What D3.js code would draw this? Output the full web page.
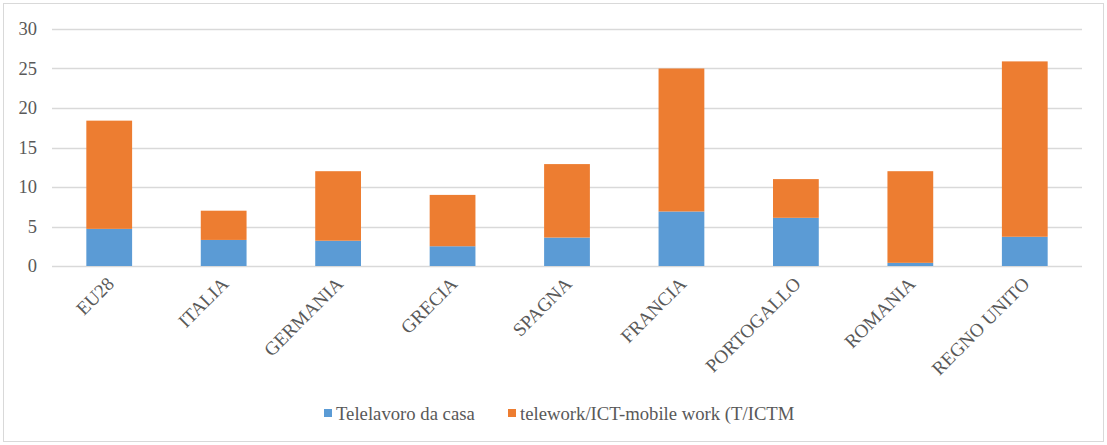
<!DOCTYPE html>
<html>
<head>
<meta charset="utf-8">
<script src="https://cdn.jsdelivr.net/npm/d3@7"></script>
<style>
  html, body { margin: 0; padding: 0; background: #fff; }
  svg { display: block; }
  svg text { font-family: "Liberation Serif", "Times New Roman", "DejaVu Serif", serif; }
</style>
</head>
<body>
<svg id="chart" width="1107" height="445"></svg>
<script>
const categories = ["EU28", "ITALIA", "GERMANIA", "GRECIA", "SPAGNA", "FRANCIA", "PORTOGALLO", "ROMANIA", "REGNO UNITO"];
const seriesNames = ["Telelavoro da casa", "telework/ICT-mobile work (T/ICTM"];
const homeValues = [4.7, 3.3, 3.2, 2.5, 3.6, 6.9, 6.1, 0.4, 3.7];
const mobileValues = [13.7, 3.7, 8.8, 6.5, 9.3, 18.1, 4.9, 11.6, 22.2];
const yTicks = [0, 5, 10, 15, 20, 25, 30];
const colors = ["#5B9BD5", "#ED7D31"];

const svg = d3.select("#chart");
const W = 1107, H = 445;
const margin = { left: 52, right: 25, top: 29, bottom: 179 };
const textColor = "#595959";

// outer border
svg.append("rect")
  .attr("x", 3.5).attr("y", 3.5)
  .attr("width", W - 7).attr("height", H - 7)
  .attr("fill", "#fff").attr("stroke", "#D9D9D9").attr("stroke-width", 1);

const x = d3.scaleBand().domain(categories)
  .range([margin.left, W - margin.right]).paddingInner(0.6).paddingOuter(0.3);
const y = d3.scaleLinear().domain([0, 30]).range([H - margin.bottom, margin.top]);

// gridlines
svg.append("g").selectAll("line").data(yTicks).join("line")
  .attr("x1", margin.left).attr("x2", W - margin.right)
  .attr("y1", d => Math.round(y(d)) + 0.5).attr("y2", d => Math.round(y(d)) + 0.5)
  .attr("stroke", "#D9D9D9").attr("stroke-width", 1.3);

// y axis labels
const yAxis = svg.append("g")
  .attr("transform", `translate(${margin.left - 15},0)`)
  .call(d3.axisLeft(y).tickValues(yTicks).tickSize(0).tickPadding(0));
yAxis.attr("font-family", null).attr("font-size", null);
yAxis.select(".domain").remove();
yAxis.selectAll("text")
  .attr("font-size", 18.5).attr("fill", textColor);

// stacked data
const data = categories.map((c, i) => ({ cat: c, home: homeValues[i], mobile: mobileValues[i] }));
const stack = d3.stack().keys(["home", "mobile"])(data);

svg.append("g").selectAll("g").data(stack).join("g")
  .attr("fill", (d, i) => colors[i])
  .selectAll("rect").data(d => d).join("rect")
  .attr("x", d => x(d.data.cat))
  .attr("width", x.bandwidth())
  .attr("y", d => y(d[1]))
  .attr("height", d => y(d[0]) - y(d[1]));

// x axis labels
const xAxis = svg.append("g")
  .attr("transform", `translate(0,${y(0)})`)
  .call(d3.axisBottom(x).tickSize(0).tickPadding(0));
xAxis.attr("font-family", null).attr("font-size", null);
xAxis.select(".domain").remove();
xAxis.selectAll("text")
  .attr("font-size", 19).attr("fill", textColor)
  .attr("text-anchor", "end")
  .attr("dy", null)
  .attr("transform", "translate(6,19) rotate(-45)");

// legend
const legend = svg.append("g").attr("transform", "translate(0,413)");
const legendItems = [
  { name: seriesNames[0], color: colors[0], x: 324 },
  { name: seriesNames[1], color: colors[1], x: 508 }
];
const li = legend.selectAll("g").data(legendItems).join("g")
  .attr("transform", d => `translate(${d.x},0)`);
li.append("rect").attr("x", 0).attr("y", -4).attr("width", 8).attr("height", 8)
  .attr("fill", d => d.color);
li.append("text").attr("x", 12).attr("y", 0).attr("dy", "0.35em")
  .attr("font-size", 18.7).attr("fill", textColor)
  .text(d => d.name);
</script>
</body>
</html>
